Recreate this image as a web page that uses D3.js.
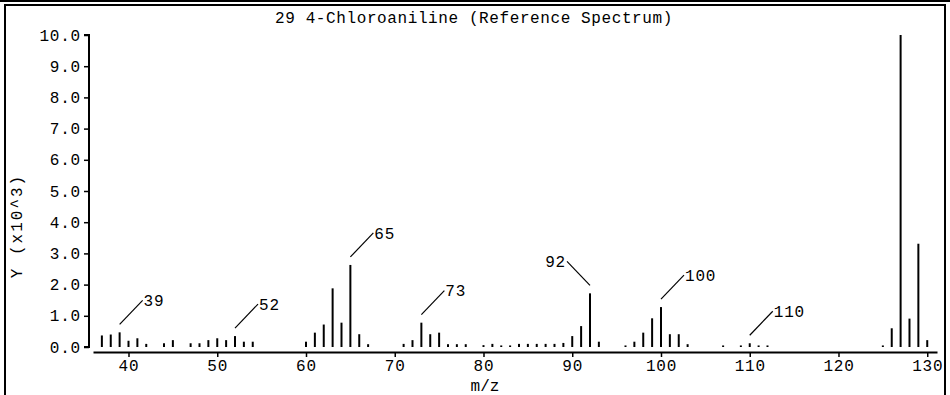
<!DOCTYPE html>
<html><head><meta charset="utf-8">
<script src="https://cdn.jsdelivr.net/npm/d3@7"></script>
<style>
html,body{margin:0;padding:0;background:#fff;}
svg{display:block;}
text{font-family:"Liberation Mono","DejaVu Sans Mono",monospace;fill:#000;}
</style></head>
<body><svg id="c" width="950" height="395"></svg>
<script>
const title = "29 4-Chloroaniline (Reference Spectrum)";
const mz = [37,38,39,40,41,42,44,45,47,48,49,50,51,52,53,54,
  60,61,62,63,64,65,66,67,71,72,73,74,75,76,77,78,
  80,81,82,83,84,85,86,87,88,89,90,91,92,93,
  96,97,98,99,100,101,102,103,107,109,110,111,112,
  125,126,127,128,129,130];
const intensity = [0.37,0.40,0.47,0.20,0.28,0.10,0.12,0.22,0.12,0.12,0.22,0.28,0.22,0.35,0.17,0.17,
  0.17,0.46,0.72,1.88,0.78,2.63,0.41,0.09,0.10,0.22,0.78,0.41,0.46,0.09,0.09,0.09,
  0.06,0.10,0.05,0.05,0.10,0.10,0.10,0.10,0.10,0.13,0.35,0.67,1.72,0.17,
  0.05,0.17,0.46,0.92,1.28,0.41,0.41,0.09,0.05,0.05,0.12,0.05,0.05,
  0.05,0.60,10.0,0.91,3.31,0.22];
const labelMz = [39,52,65,73,92,100,110];
const labelDir = [1,1,1,1,-1,1,1];
const xTicks = [40,50,60,70,80,90,100,110,120,130];
const yTicks = [0,1,2,3,4,5,6,7,8,9,10];
const xLabel = "m/z";
const yLabel = "Y (x10^3)";

const svg = d3.select("#c");
const x = d3.scaleLinear().domain([36, 131.1]).range([93, 937]);
const y = d3.scaleLinear().domain([0, 10]).range([347, 35]);
const FS = 16;

// frame
svg.append("line").attr("x1",0).attr("x2",950).attr("y1",1).attr("y2",1).attr("stroke","#000").attr("stroke-width",2);
svg.append("line").attr("x1",4).attr("x2",946).attr("y1",5).attr("y2",5).attr("stroke","#000").attr("stroke-width",2);
svg.append("line").attr("x1",5).attr("x2",5).attr("y1",5).attr("y2",395).attr("stroke","#000").attr("stroke-width",2);
svg.append("line").attr("x1",945).attr("x2",945).attr("y1",5).attr("y2",395).attr("stroke","#000").attr("stroke-width",2);

svg.append("text").attr("x",474).attr("y",23).attr("text-anchor","middle")
  .attr("font-size",FS).attr("letter-spacing",0.6).text(title);

// y axis
const yAxis = d3.axisLeft(y).tickValues(yTicks).tickFormat(d3.format(".1f")).tickSize(5).tickPadding(3);
const gy = svg.append("g").attr("transform","translate(89,0)").call(yAxis);
gy.select(".domain").attr("stroke-width",2).attr("d","M-5,35H0V347H-5");
gy.selectAll(".tick line").attr("stroke-width",1.5);
gy.selectAll("text").attr("font-size",FS).attr("font-family","Liberation Mono").attr("letter-spacing",0.8);

// x axis
const xAxis = d3.axisBottom(x).tickValues(xTicks).tickSize(5).tickPadding(3).tickSizeOuter(0);
const gx = svg.append("g").attr("transform","translate(0,352)").call(xAxis);
gx.select(".domain").attr("stroke-width",2);
gx.selectAll(".tick line").attr("stroke-width",1.5);
gx.selectAll("text").attr("font-size",FS).attr("font-family","Liberation Mono").attr("letter-spacing",0.8);

svg.append("text").attr("x",485).attr("y",391).attr("text-anchor","middle").attr("font-size",FS).text(xLabel);
svg.append("text").attr("transform","translate(22,226) rotate(-90)").attr("text-anchor","middle")
  .attr("font-size",FS).attr("letter-spacing",2).text(yLabel);

// sticks
const data = mz.map((m,i)=>({m, v:intensity[i]}));
svg.append("g").selectAll("line").data(data).join("line")
  .attr("x1",d=>x(d.m)).attr("x2",d=>x(d.m))
  .attr("y1",y(0)).attr("y2",d=>Math.min(y(0)-1.5, y(d.v)))
  .attr("stroke","#000").attr("stroke-width",2);

// peak labels
const lab = labelMz.map((m,i)=>({m, v:intensity[mz.indexOf(m)], dir:labelDir[i]}));
const lg = svg.append("g");
lab.forEach(d=>{
  const x0 = x(d.m), y0 = y(d.v) - 8;
  const x1 = x0 + d.dir*23, y1 = y0 - 24;
  lg.append("line").attr("x1",x0).attr("y1",y0).attr("x2",x1).attr("y2",y1).attr("stroke","#000").attr("stroke-width",1.2);
  lg.append("text").attr("x",x1 + d.dir*1).attr("y",y1).attr("dy","0.35em")
    .attr("text-anchor",d.dir>0?"start":"end").attr("font-size",FS).attr("letter-spacing",0.8).text(d.m);
});
</script></body></html>
